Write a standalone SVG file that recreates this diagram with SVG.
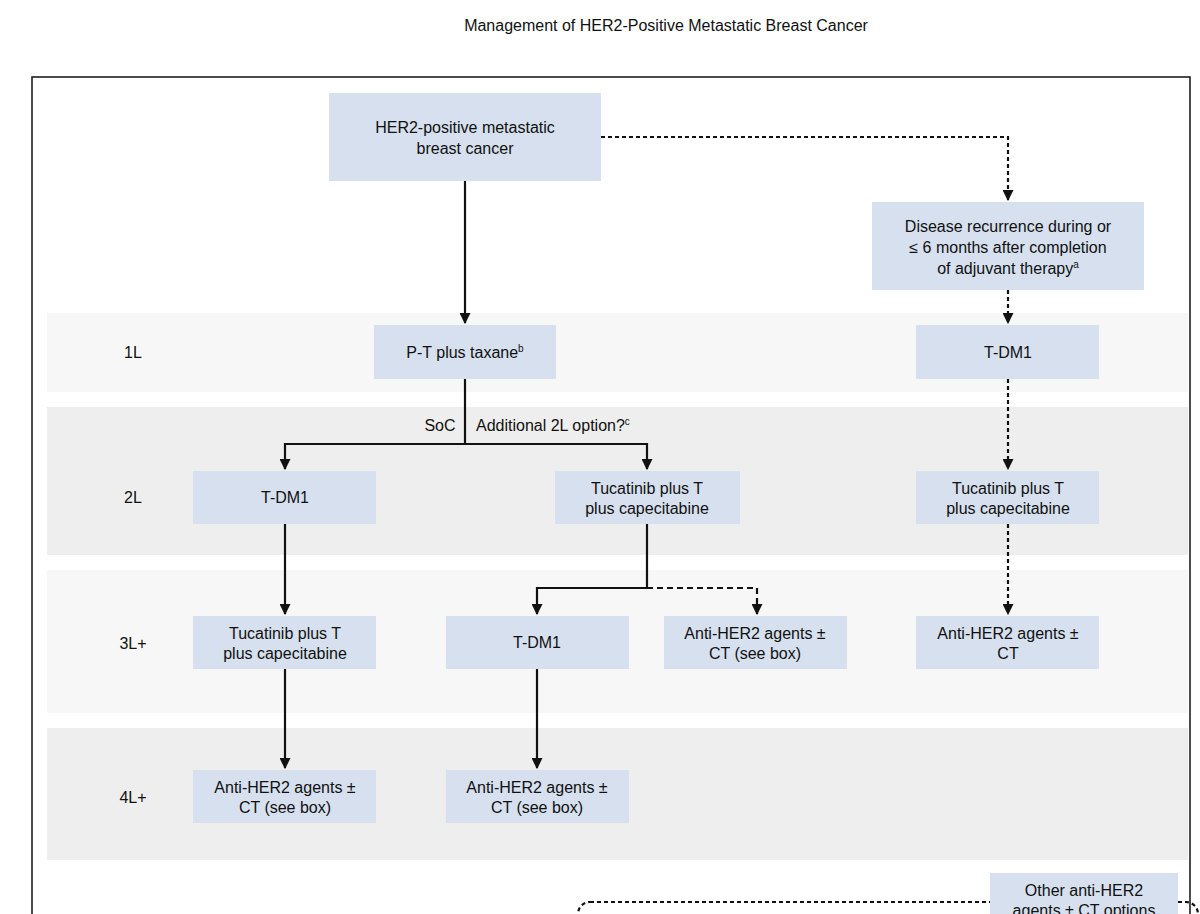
<svg xmlns="http://www.w3.org/2000/svg" width="1200" height="914" viewBox="0 0 1200 914">
<defs>
<style>
text{font-family:"Liberation Sans",Arial,sans-serif;font-size:16px;fill:#111;text-anchor:middle}
text.s{text-anchor:start}
.n{fill:#d6e0ee}
.c{fill:none;stroke:#111;stroke-width:2.2}
.d{stroke-dasharray:4 3}
.e{stroke-dasharray:6 4}
</style>
<marker id="a" viewBox="0 0 10 10" refX="9" refY="5" markerWidth="5" markerHeight="5" orient="auto"><path d="M0,0L10,5L0,10z" fill="#111"/></marker>
</defs>
<rect width="1200" height="914" fill="#fff"/>
<text x="666" y="31" font-size="15">Management of HER2-Positive Metastatic Breast Cancer</text>
<rect x="32" y="77" width="1158" height="900" fill="none" stroke="#111" stroke-width="1.5"/>
<rect x="47" y="313" width="1141" height="79" fill="#f7f7f7"/>
<rect x="47" y="407" width="1141" height="148" fill="#eeeeee"/>
<rect x="47" y="570" width="1141" height="143" fill="#f7f7f7"/>
<rect x="47" y="728" width="1141" height="132" fill="#eeeeee"/>
<g id="labels">
<text x="133" y="358">1L</text><text x="133" y="503">2L</text><text x="133" y="649">3L+</text><text x="133" y="803">4L+</text>
</g>
<g id="connectors">
<path class="c" d="M465,181V323" marker-end="url(#a)"/>
<path class="c d" d="M601,137H1008V200" marker-end="url(#a)"/>
<path class="c d" d="M1008,290V323" marker-end="url(#a)"/>
<path class="c d" d="M1008,379V469" marker-end="url(#a)"/>
<path class="c d" d="M1008,524V614" marker-end="url(#a)"/>
<path class="c" d="M465,379V444H285V469" marker-end="url(#a)"/>
<path class="c" d="M465,444H647V469" marker-end="url(#a)"/>
<path class="c" d="M285,524V614" marker-end="url(#a)"/>
<path class="c" d="M647,524V588H537V614" marker-end="url(#a)"/>
<path class="c e" d="M647,588H757V614" marker-end="url(#a)"/>
<path class="c" d="M285,669V768" marker-end="url(#a)"/>
<path class="c" d="M537,669V768" marker-end="url(#a)"/>
<rect class="c d" x="578" y="902" width="620" height="60" rx="12"/>
<text x="440" y="431">SoC</text>
<text class="s" x="476" y="431">Additional 2L option?<tspan font-size="10" dy="-6">c</tspan></text>
</g>
<g id="n-top"><rect class="n" x="329" y="93" width="272" height="88"/><text x="465" y="133">HER2-positive metastatic</text><text x="465" y="154">breast cancer</text></g>
<g id="n-rec"><rect class="n" x="872" y="202" width="272" height="88"/><text x="1008" y="232">Disease recurrence during or</text><text x="1008" y="253">≤ 6 months after completion</text><text x="1008" y="274">of adjuvant therapy<tspan font-size="10" dy="-6">a</tspan></text></g>
<g id="n-pt"><rect class="n" x="374" y="325" width="182" height="54"/><text x="465" y="358">P-T plus taxane<tspan font-size="10" dy="-6">b</tspan></text></g>
<g id="n-tdm1-1r"><rect class="n" x="916" y="325" width="183" height="54"/><text x="1008" y="358">T-DM1</text></g>
<g id="n-tdm1-2l"><rect class="n" x="193" y="471" width="183" height="53"/><text x="285" y="503">T-DM1</text></g>
<g id="n-tuc-2m"><rect class="n" x="555" y="471" width="185" height="53"/><text x="647" y="494">Tucatinib plus T</text><text x="647" y="514">plus capecitabine</text></g>
<g id="n-tuc-2r"><rect class="n" x="916" y="471" width="183" height="53"/><text x="1008" y="494">Tucatinib plus T</text><text x="1008" y="514">plus capecitabine</text></g>
<g id="n-tuc-3l"><rect class="n" x="193" y="616" width="183" height="53"/><text x="285" y="639">Tucatinib plus T</text><text x="285" y="659">plus capecitabine</text></g>
<g id="n-tdm1-3m"><rect class="n" x="446" y="616" width="183" height="53"/><text x="537" y="648">T-DM1</text></g>
<g id="n-anti-3m"><rect class="n" x="664" y="616" width="183" height="53"/><text x="755" y="639">Anti-HER2 agents ±</text><text x="755" y="659">CT (see box)</text></g>
<g id="n-anti-3r"><rect class="n" x="916" y="616" width="183" height="53"/><text x="1008" y="639">Anti-HER2 agents ±</text><text x="1008" y="659">CT</text></g>
<g id="n-anti-4l"><rect class="n" x="193" y="770" width="183" height="53"/><text x="285" y="793">Anti-HER2 agents ±</text><text x="285" y="813">CT (see box)</text></g>
<g id="n-anti-4m"><rect class="n" x="446" y="770" width="183" height="53"/><text x="537" y="793">Anti-HER2 agents ±</text><text x="537" y="813">CT (see box)</text></g>
<g id="n-other"><rect class="n" x="990" y="873" width="188" height="50"/><text x="1084" y="896">Other anti-HER2</text><text x="1084" y="916">agents ± CT options</text></g>
</svg>
